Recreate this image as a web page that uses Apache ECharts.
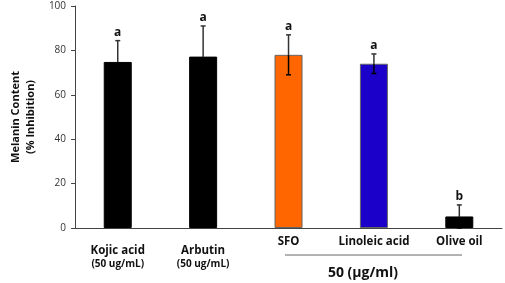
<!DOCTYPE html>
<html>
<head>
<meta charset="utf-8">
<script src="https://cdn.jsdelivr.net/npm/echarts@6/dist/echarts.min.js"></script>
<style>
    html, body { margin: 0; padding: 0; background: #fff; }
    #chart { width: 505px; height: 283px; }
</style>
</head>
<body>
<div id="chart"></div>
<script>
// values
const categories = ['Kojic acid', 'Arbutin', 'SFO', 'Linoleic acid', 'Olive oil'];
const doses = ['(50 ug/mL)', '(50 ug/mL)', '', '', ''];
const inhibition = [74.8, 77.2, 78.0, 74.0, 5.2];
const errors = [9.6, 13.8, 9.0, 4.4, 5.2];
const letters = ['a', 'a', 'a', 'a', 'b'];
const barColors = ['#000000', '#000000', '#ff6600', '#1a00c8', '#000000'];
const yTicks = [0, 20, 40, 60, 80, 100];

const font = '"Open Sans", sans-serif';

let chart = echarts.init(document.getElementById('chart'));
const option = {
    animation: false,
    grid: {left: 68, right: 3, top: 6, bottom: 55},
    xAxis: {
        type: 'category',
        data: categories,
        axisLine: {lineStyle: {color: '#444', width: 1}},
        axisTick: {length: 4, lineStyle: {color: '#444'}},
        axisLabel: {
            margin: 6,
            interval: 0,
            formatter: function (v, i) {
                if (doses[i]) return '{g|\u00a0}\n{n|' + v + '}\n{s|' + doses[i] + '}';
                return '{m|' + v + '}';
            },
            rich: {
                g: {fontSize: 8, lineHeight: 9},
                n: {fontFamily: font, fontWeight: 'bold', fontSize: 11.5, color: '#111', lineHeight: 15},
                s: {fontFamily: font, fontWeight: 'bold', fontSize: 10, color: '#111', lineHeight: 13},
                m: {fontFamily: font, fontWeight: 'bold', fontSize: 11.5, color: '#111', lineHeight: 15}
            }
        }
    },
    yAxis: {
        type: 'value',
        min: 0,
        max: 100,
        interval: 20,
        name: 'Melanin Content\n(% Inhibition)',
        nameLocation: 'middle',
        nameRotate: 90,
        nameGap: 18,
        nameTextStyle: {fontFamily: font, fontWeight: 'bold', fontSize: 11, color: '#111', lineHeight: 15},
        axisLine: {show: true, lineStyle: {color: '#444', width: 1}},
        axisTick: {show: true, length: 4, lineStyle: {color: '#444'}},
        splitLine: {show: false},
        axisLabel: {
            margin: 9,
            fontFamily: font,
            fontSize: 10,
            color: '#333',
            formatter: function (v) { return yTicks.indexOf(v) >= 0 ? String(v) : ''; }
        }
    },
    series: [
        {
            type: 'bar',
            barWidth: 28,
            data: inhibition.map((v, i) => ({
                value: v,
                itemStyle: {color: barColors[i], borderColor: i === 2 || i === 3 ? '#666' : barColors[i], borderWidth: 1}
            }))
        },
        {
            type: 'custom',
            data: inhibition.map((v, i) => [i, v, errors[i]]),
            z: 5,
            renderItem: function (params, api) {
                const x = api.value(0);
                const v = api.value(1);
                const e = api.value(2);
                const top = api.coord([x, v + e]);
                const mid = api.coord([x, v]);
                const bot = api.coord([x, v - e]);
                const upStyle = {stroke: '#333', lineWidth: 1.5};
                const downStyle = {stroke: '#000', lineWidth: 1.5};
                return {
                    type: 'group',
                    children: [
                        {type: 'line', shape: {x1: top[0], y1: top[1], x2: mid[0], y2: mid[1]}, style: upStyle},
                        {type: 'line', shape: {x1: mid[0], y1: mid[1], x2: bot[0], y2: bot[1]}, style: downStyle},
                        {type: 'line', shape: {x1: top[0] - 2.5, y1: top[1], x2: top[0] + 2.5, y2: top[1]}, style: upStyle},
                        {type: 'line', shape: {x1: bot[0] - 2.5, y1: bot[1], x2: bot[0] + 2.5, y2: bot[1]}, style: downStyle},
                        {
                            type: 'text',
                            style: {
                                text: letters[params.dataIndex],
                                x: top[0],
                                y: top[1] - 8,
                                align: 'center',
                                verticalAlign: 'middle',
                                font: 'bold 12px ' + font,
                                fill: '#111'
                            }
                        }
                    ]
                };
            }
        }
    ],
    graphic: [
        {type: 'line', shape: {x1: 285, y1: 255, x2: 462, y2: 255}, style: {stroke: '#666', lineWidth: 1}},
        {
            type: 'text',
            style: {
                text: '50 (\u03bcg/ml)',
                x: 363,
                y: 273,
                align: 'center',
                verticalAlign: 'middle',
                font: 'bold 14px ' + font,
                fill: '#111'
            }
        }
    ]
};
chart.setOption(option);
window.addEventListener('resize', function () {
    chart.resize();
});
</script>
</body>
</html>
